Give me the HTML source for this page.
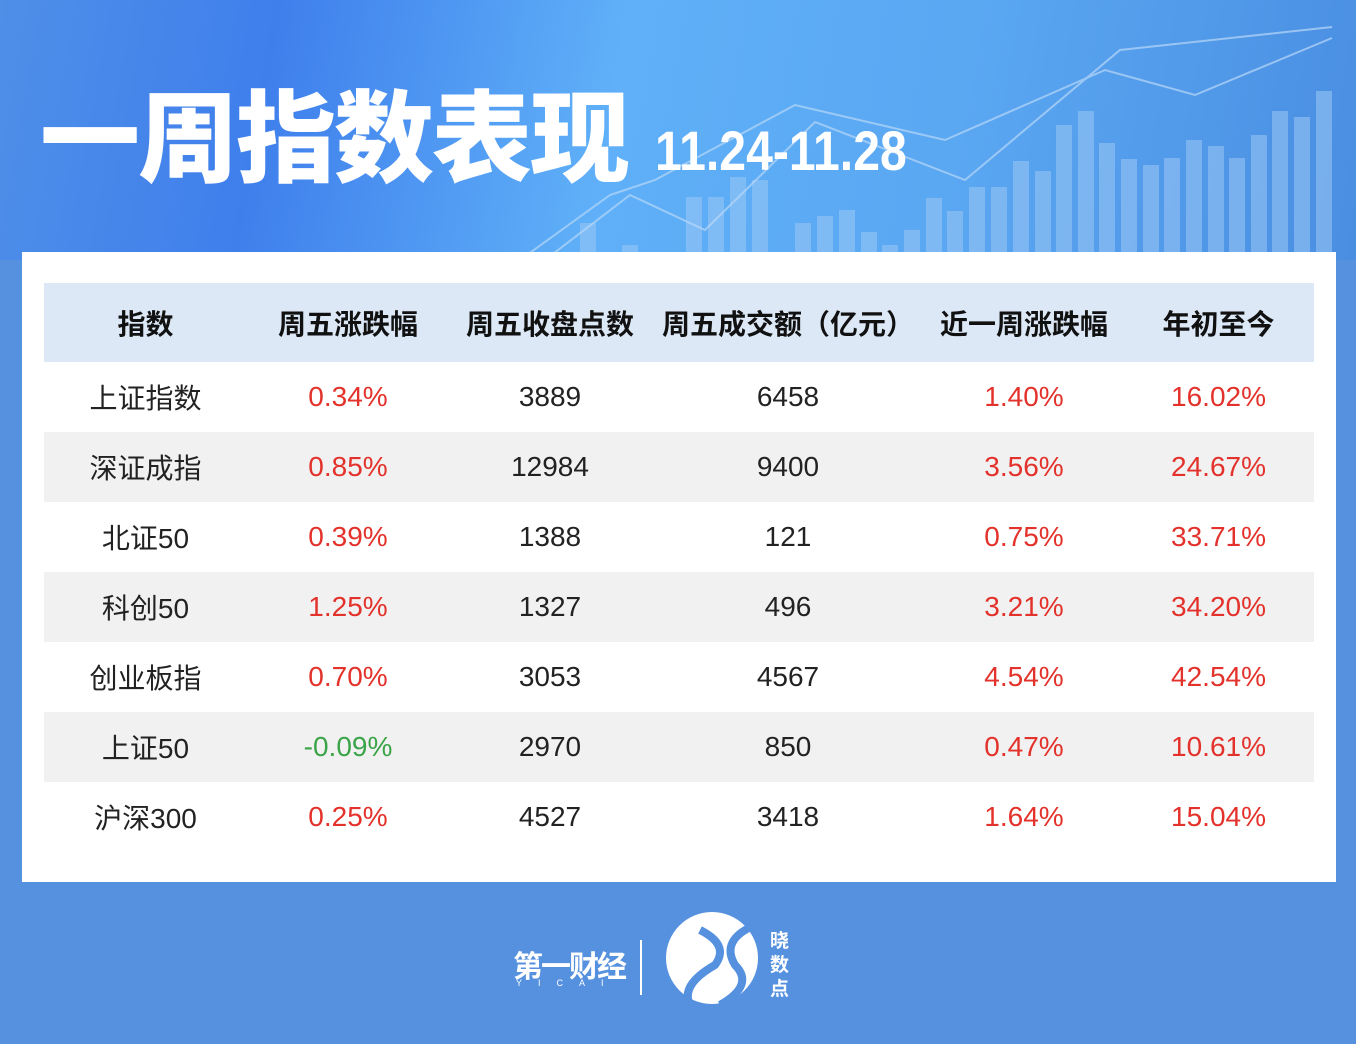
<!DOCTYPE html>
<html><head><meta charset="utf-8"><style>
*{margin:0;padding:0;box-sizing:border-box}
body{width:1356px;height:1044px;overflow:hidden;background:#5591df;font-family:"Liberation Sans","Noto Sans CJK SC",sans-serif;position:relative}
.top{position:absolute;left:0;top:0;width:1356px;height:260px;background:linear-gradient(100deg,#4f8fe8 0%,#3f7fec 20%,#5fb0f8 45%,#5aa7f2 70%,#4a8ee2 100%)}
.title{position:absolute;left:40px;top:58px;color:#fff;font-size:100px;font-weight:900;font-family:"Noto Sans CJK SC",sans-serif;letter-spacing:-2px}
.date{position:absolute;left:655px;top:118px;color:#fff;font-size:56px;font-weight:bold;transform:scaleX(0.86);transform-origin:left;letter-spacing:0px}
.card{position:absolute;left:22px;top:252px;width:1314px;height:630px;background:#fff}
table{position:absolute;left:22px;top:31px;width:1270px;border-collapse:collapse;table-layout:fixed}
td,th{text-align:center;height:70px;font-size:28px;color:#222;font-weight:normal;padding:0}
th{height:79px;background:#dde8f6;font-weight:bold;font-size:28px;color:#111}
tr.g td{background:#f1f1f1}
.r{color:#e3322b}.gr{color:#3ba449}
</style></head><body>
<div class="top">
<svg width="1356" height="260" style="position:absolute;left:0;top:0">
<g fill="#9cc8f5" opacity="0.55">
<rect x="580" y="223" width="16" height="37"/><rect x="622" y="245" width="16" height="15"/>
<rect x="686" y="197" width="16" height="63"/><rect x="708" y="197" width="16" height="63"/><rect x="730" y="177" width="16" height="83"/><rect x="752" y="180" width="16" height="80"/>
<rect x="795" y="223" width="16" height="37"/><rect x="817" y="216" width="16" height="44"/><rect x="839" y="210" width="16" height="50"/><rect x="861" y="232" width="16" height="28"/><rect x="882" y="245" width="16" height="15"/><rect x="904" y="230" width="16" height="30"/>
<rect x="926" y="198" width="16" height="62"/><rect x="947" y="211" width="16" height="49"/><rect x="969" y="187" width="16" height="73"/><rect x="991" y="187" width="16" height="73"/><rect x="1013" y="161" width="16" height="99"/><rect x="1035" y="171" width="16" height="89"/>
<rect x="1056" y="125" width="16" height="135"/><rect x="1078" y="111" width="16" height="149"/><rect x="1099" y="143" width="16" height="117"/><rect x="1121" y="159" width="16" height="101"/><rect x="1143" y="165" width="16" height="95"/><rect x="1164" y="158" width="16" height="102"/><rect x="1186" y="140" width="16" height="120"/><rect x="1208" y="146" width="16" height="114"/><rect x="1229" y="158" width="16" height="102"/><rect x="1251" y="135" width="16" height="125"/><rect x="1272" y="111" width="16" height="149"/><rect x="1294" y="117" width="16" height="143"/><rect x="1316" y="91" width="16" height="169"/>
</g>
<g stroke="#b8d8f8" stroke-width="2" fill="none" opacity="0.7">
<polyline points="520,260 610,195 655,180 795,105 945,140 1105,70 1195,95 1332,38"/>
<polyline points="545,260 630,195 705,230 815,122 965,180 1120,50 1332,27"/>
</g>
</svg>
<div class="title">一周指数表现</div>
<div class="date">11.24-11.28</div>
</div>
<div class="card">
<table>
<colgroup><col style="width:203px"><col style="width:202px"><col style="width:202px"><col style="width:274px"><col style="width:198px"><col style="width:191px"></colgroup>
<tr><th>指数</th><th>周五涨跌幅</th><th>周五收盘点数</th><th>周五成交额（亿元）</th><th>近一周涨跌幅</th><th>年初至今</th></tr>
<tr><td>上证指数</td><td class="r">0.34%</td><td>3889</td><td>6458</td><td class="r">1.40%</td><td class="r">16.02%</td></tr>
<tr class="g"><td>深证成指</td><td class="r">0.85%</td><td>12984</td><td>9400</td><td class="r">3.56%</td><td class="r">24.67%</td></tr>
<tr><td>北证50</td><td class="r">0.39%</td><td>1388</td><td>121</td><td class="r">0.75%</td><td class="r">33.71%</td></tr>
<tr class="g"><td>科创50</td><td class="r">1.25%</td><td>1327</td><td>496</td><td class="r">3.21%</td><td class="r">34.20%</td></tr>
<tr><td>创业板指</td><td class="r">0.70%</td><td>3053</td><td>4567</td><td class="r">4.54%</td><td class="r">42.54%</td></tr>
<tr class="g"><td>上证50</td><td class="gr">-0.09%</td><td>2970</td><td>850</td><td class="r">0.47%</td><td class="r">10.61%</td></tr>
<tr><td>沪深300</td><td class="r">0.25%</td><td>4527</td><td>3418</td><td class="r">1.64%</td><td class="r">15.04%</td></tr>
</table>
</div>
<div style="position:absolute;left:513px;top:942px;color:#fff;font-size:30px;font-weight:bold;font-family:'Noto Sans CJK SC',sans-serif;letter-spacing:-2px">第一财经</div>
<div style="position:absolute;left:516px;top:978px;color:#fff;font-size:9px;letter-spacing:16px">YICAI</div>
<div style="position:absolute;left:640px;top:940px;width:2px;height:55px;background:#fff"></div>
<div style="position:absolute;left:666px;top:912px;width:92px;height:92px;border-radius:50%;background:#fff"></div>
<svg width="120" height="110" style="position:absolute;left:660px;top:905px"><path d="M40 25 Q70 40 55 60 Q20 80 30 100" stroke="#5591df" stroke-width="8" fill="none"/><path d="M95 20 Q60 35 75 60 Q95 80 60 100" stroke="#5591df" stroke-width="8" fill="none"/></svg>
<div style="position:absolute;left:770px;top:928px;color:#fff;font-size:19px;font-weight:bold;line-height:24px;width:22px;font-family:'Noto Sans CJK SC',sans-serif">晓数点</div>
</body></html>
